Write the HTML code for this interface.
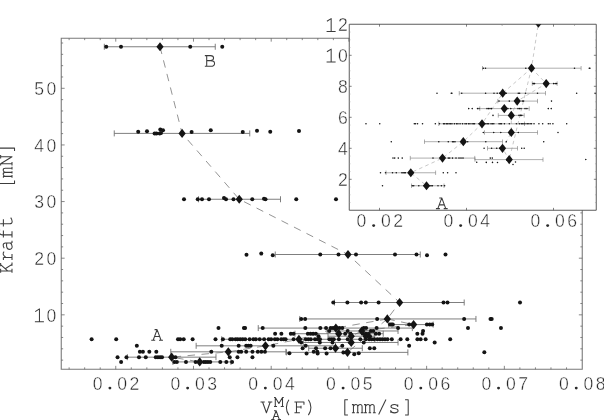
<!DOCTYPE html>
<html><head><meta charset="utf-8"><title>Kraft vs V</title>
<style>
html,body{margin:0;padding:0;background:#fff;overflow:hidden}
body{width:604px;height:420px;font-family:"Liberation Mono",monospace}
svg{display:block;will-change:transform}
</style></head><body>
<svg width="604" height="420" viewBox="0 0 604 420">
<defs><clipPath id="cm"><path d="M61.25 38.25H349.25V210.25H582.25V369.25H61.25Z"/></clipPath>
<clipPath id="ci"><rect x="349.25" y="24.25" width="247" height="186"/></clipPath></defs>
<rect width="604" height="420" fill="#fff"/>
<path d="M349.25 38.25H61.25V369.25H582.25V210.25" stroke="#7a7a7a" stroke-width="1.1" fill="none"/>
<path d="M69.12 369.25v-1.9M69.12 38.25v1.9M84.66 369.25v-1.9M84.66 38.25v1.9M100.21 369.25v-1.9M100.21 38.25v1.9M115.75 369.25v-3.4M115.75 38.25v3.4M131.29 369.25v-1.9M131.29 38.25v1.9M146.84 369.25v-1.9M146.84 38.25v1.9M162.38 369.25v-1.9M162.38 38.25v1.9M177.93 369.25v-1.9M177.93 38.25v1.9M193.47 369.25v-3.4M193.47 38.25v3.4M209.01 369.25v-1.9M209.01 38.25v1.9M224.56 369.25v-1.9M224.56 38.25v1.9M240.1 369.25v-1.9M240.1 38.25v1.9M255.65 369.25v-1.9M255.65 38.25v1.9M271.19 369.25v-3.4M271.19 38.25v3.4M286.73 369.25v-1.9M286.73 38.25v1.9M302.28 369.25v-1.9M302.28 38.25v1.9M317.82 369.25v-1.9M317.82 38.25v1.9M333.37 369.25v-1.9M333.37 38.25v1.9M348.91 369.25v-3.4M348.91 38.25v3.4M364.45 369.25v-1.9M380 369.25v-1.9M395.54 369.25v-1.9M411.09 369.25v-1.9M426.63 369.25v-3.4M442.17 369.25v-1.9M457.72 369.25v-1.9M473.26 369.25v-1.9M488.81 369.25v-1.9M504.35 369.25v-3.4M519.89 369.25v-1.9M535.44 369.25v-1.9M550.98 369.25v-1.9M566.53 369.25v-1.9M61.25 360.13h1.9M582.25 360.13h-1.9M61.25 348.81h1.9M582.25 348.81h-1.9M61.25 337.48h1.9M582.25 337.48h-1.9M61.25 326.16h1.9M582.25 326.16h-1.9M61.25 314.83h3.4M582.25 314.83h-3.4M61.25 303.5h1.9M582.25 303.5h-1.9M61.25 292.18h1.9M582.25 292.18h-1.9M61.25 280.85h1.9M582.25 280.85h-1.9M61.25 269.53h1.9M582.25 269.53h-1.9M61.25 258.2h3.4M582.25 258.2h-3.4M61.25 246.87h1.9M582.25 246.87h-1.9M61.25 235.55h1.9M582.25 235.55h-1.9M61.25 224.22h1.9M582.25 224.22h-1.9M61.25 212.9h1.9M582.25 212.9h-1.9M61.25 201.57h3.4M61.25 190.24h1.9M61.25 178.92h1.9M61.25 167.59h1.9M61.25 156.27h1.9M61.25 144.94h3.4M61.25 133.61h1.9M61.25 122.29h1.9M61.25 110.96h1.9M61.25 99.64h1.9M61.25 88.31h3.4M61.25 76.98h1.9M61.25 65.66h1.9M61.25 54.33h1.9M61.25 43.01h1.9" stroke="#606060" stroke-width="0.75" fill="none"/>
<g clip-path="url(#cm)">
<g stroke="#707070" stroke-width="0.9" fill="none">
<path d="M104.3 46.75H215.25M104.3 43.75V49.75M215.25 43.75V49.75"/>
<path d="M114.25 133.4H249.75M114.25 130.4V136.4M249.75 130.4V136.4"/>
<path d="M198.5 199.25H280.5M198.5 196.25V202.25M280.5 196.25V202.25"/>
<path d="M275.25 254.5H420.25M275.25 251.5V257.5M420.25 251.5V257.5"/>
<path d="M334.5 302.5H464.2M334.5 299.5V305.5M464.2 299.5V305.5"/>
<path d="M299.78 318.95H475.94M299.78 315.95V321.95M475.94 315.95V321.95"/>
<path d="M388.7 324.58H433.2M388.7 321.58V327.58M433.2 321.58V327.58"/>
<path d="M258.24 328.09H412.34M258.24 325.09V331.09M412.34 325.09V331.09"/>
<path d="M327.11 330.98H398.04M327.11 327.98V333.98M398.04 327.98V333.98"/>
<path d="M294.95 333.72H383.21M294.95 330.72V336.72M383.21 330.72V336.72"/>
<path d="M328.01 336.2H374.28M328.01 333.2V339.2M374.28 333.2V339.2"/>
<path d="M221.7 339.27H374.82M221.7 336.27V342.27M374.82 336.27V342.27"/>
<path d="M303.35 342.46H398.04M303.35 339.46V345.46M398.04 339.46V345.46"/>
<path d="M196.15 345.82H335.51M196.15 342.82V348.82M335.51 342.82V348.82"/>
<path d="M308.71 348.23H362.31M308.71 345.23V351.23M362.31 345.23V351.23"/>
<path d="M170.78 351.82H285.93M170.78 348.82V354.82M285.93 348.82V354.82"/>
<path d="M286.38 352.36H407.87M286.38 349.36V355.36M407.87 349.36V355.36"/>
<path d="M127.36 357.17H215.98M127.36 354.17V360.17M215.98 354.17V360.17"/>
<path d="M172.92 361.92H230.99M172.92 358.92V364.92M230.99 358.92V364.92"/>
</g>
<g stroke="#666" stroke-width="0.7" fill="none" stroke-dasharray="7.5 6.5">
<path d="M160 46.75L182.1 133.4L239.25 199.25L348 254.5L399.6 302.5L387.32 318.95"/>
<path d="M387.32 318.95L335.87 328.09L298.9 339.27L265.47 345.82L228.31 351.82L171.67 357.17L199.72 361.92"/>
<path d="M387.32 318.95L413.6 324.58L361.77 330.98"/>
<path d="M387.32 318.95L347.48 352.36"/>
<path d="M361.77 330.98L351.23 336.2L351.23 342.46L335.51 348.23L347.48 352.36"/>
</g>
<g fill="#141414">
<circle cx="106.25" cy="46.75" r="2.0"/>
<circle cx="121" cy="46.75" r="2.0"/>
<circle cx="190.25" cy="46.75" r="2.0"/>
<circle cx="222.25" cy="46.75" r="2.0"/>
<circle cx="138.2" cy="131.7" r="2.0"/>
<circle cx="147" cy="131.2" r="2.0"/>
<circle cx="154.6" cy="133.4" r="2.0"/>
<circle cx="156.5" cy="133.4" r="2.0"/>
<circle cx="159.7" cy="133.4" r="2.0"/>
<circle cx="161" cy="133" r="2.0"/>
<circle cx="160.3" cy="129.6" r="2.0"/>
<circle cx="163" cy="130.3" r="2.0"/>
<circle cx="191.6" cy="132.1" r="2.0"/>
<circle cx="210.75" cy="130.25" r="2.0"/>
<circle cx="242.75" cy="132" r="2.0"/>
<circle cx="257" cy="130.75" r="2.0"/>
<circle cx="270.25" cy="131.75" r="2.0"/>
<circle cx="299" cy="131" r="2.0"/>
<circle cx="184" cy="199.25" r="2.0"/>
<circle cx="197.75" cy="199.25" r="2.0"/>
<circle cx="202" cy="199.25" r="2.0"/>
<circle cx="209" cy="199.25" r="2.0"/>
<circle cx="226" cy="199.25" r="2.0"/>
<circle cx="233.5" cy="199.25" r="2.0"/>
<circle cx="252.25" cy="199.25" r="2.0"/>
<circle cx="265.5" cy="199.25" r="2.0"/>
<circle cx="296.25" cy="199.25" r="2.0"/>
<circle cx="336" cy="199.25" r="2.0"/>
<circle cx="224" cy="198" r="2.0"/>
<circle cx="264" cy="198.8" r="2.0"/>
<circle cx="320.25" cy="254.5" r="2.0"/>
<circle cx="338.5" cy="254.5" r="2.0"/>
<circle cx="356" cy="254.5" r="2.0"/>
<circle cx="395" cy="254.5" r="2.0"/>
<circle cx="416.5" cy="254.5" r="2.0"/>
<circle cx="445.5" cy="254.5" r="2.0"/>
<circle cx="246.5" cy="254.75" r="2.0"/>
<circle cx="261.25" cy="253.5" r="2.0"/>
<circle cx="272.75" cy="255.25" r="2.0"/>
<circle cx="427" cy="255.25" r="2.0"/>
<circle cx="333.3" cy="302.5" r="2.0"/>
<circle cx="347.4" cy="302.5" r="2.0"/>
<circle cx="361.1" cy="302.5" r="2.0"/>
<circle cx="365.8" cy="302.5" r="2.0"/>
<circle cx="378.6" cy="302.5" r="2.0"/>
<circle cx="443.5" cy="302.5" r="2.0"/>
<circle cx="447.5" cy="302.5" r="2.0"/>
<circle cx="520" cy="302.5" r="2.0"/>
<circle cx="301.21" cy="318.95" r="2.0"/>
<circle cx="305.14" cy="318.95" r="2.0"/>
<circle cx="377.14" cy="318.95" r="2.0"/>
<circle cx="464.15" cy="318.95" r="2.0"/>
<circle cx="490.5" cy="318.95" r="2.0"/>
<circle cx="491.7" cy="318.95" r="2.0"/>
<circle cx="390" cy="324.58" r="2.0"/>
<circle cx="391.5" cy="324.58" r="2.0"/>
<circle cx="392.8" cy="324.58" r="2.0"/>
<circle cx="409.2" cy="324.58" r="2.0"/>
<circle cx="426.9" cy="324.58" r="2.0"/>
<circle cx="429.7" cy="324.58" r="2.0"/>
<circle cx="432.2" cy="324.58" r="2.0"/>
<circle cx="218.48" cy="328.09" r="2.0"/>
<circle cx="243.94" cy="328.09" r="2.0"/>
<circle cx="245.1" cy="328.09" r="2.0"/>
<circle cx="262.7" cy="328.09" r="2.0"/>
<circle cx="305.32" cy="328.09" r="2.0"/>
<circle cx="320.32" cy="328.09" r="2.0"/>
<circle cx="326.04" cy="328.09" r="2.0"/>
<circle cx="330.69" cy="328.09" r="2.0"/>
<circle cx="333.01" cy="328.09" r="2.0"/>
<circle cx="339.44" cy="328.09" r="2.0"/>
<circle cx="342.3" cy="328.09" r="2.0"/>
<circle cx="363.74" cy="328.09" r="2.0"/>
<circle cx="366.06" cy="328.09" r="2.0"/>
<circle cx="376.6" cy="328.09" r="2.0"/>
<circle cx="398.04" cy="328.09" r="2.0"/>
<circle cx="467.99" cy="328.09" r="2.0"/>
<circle cx="500.96" cy="328.09" r="2.0"/>
<circle cx="329.26" cy="330.98" r="2.0"/>
<circle cx="347.66" cy="330.98" r="2.0"/>
<circle cx="370.89" cy="330.98" r="2.0"/>
<circle cx="373.21" cy="330.98" r="2.0"/>
<circle cx="423.06" cy="330.98" r="2.0"/>
<circle cx="275.12" cy="333.72" r="2.0"/>
<circle cx="281.37" cy="333.72" r="2.0"/>
<circle cx="290.84" cy="333.72" r="2.0"/>
<circle cx="293.52" cy="333.72" r="2.0"/>
<circle cx="307.82" cy="333.72" r="2.0"/>
<circle cx="310.5" cy="333.72" r="2.0"/>
<circle cx="313.18" cy="333.72" r="2.0"/>
<circle cx="315.86" cy="333.72" r="2.0"/>
<circle cx="345.16" cy="333.72" r="2.0"/>
<circle cx="350.34" cy="333.72" r="2.0"/>
<circle cx="363.2" cy="333.72" r="2.0"/>
<circle cx="365.88" cy="333.72" r="2.0"/>
<circle cx="368.56" cy="333.72" r="2.0"/>
<circle cx="375.8" cy="333.72" r="2.0"/>
<circle cx="379.1" cy="333.72" r="2.0"/>
<circle cx="417.34" cy="333.72" r="2.0"/>
<circle cx="422.52" cy="333.72" r="2.0"/>
<circle cx="318.54" cy="336.2" r="2.0"/>
<circle cx="364.99" cy="336.2" r="2.0"/>
<circle cx="367.49" cy="336.2" r="2.0"/>
<circle cx="369.99" cy="336.2" r="2.0"/>
<circle cx="91.6" cy="339.27" r="2.0"/>
<circle cx="116.2" cy="339.27" r="2.0"/>
<circle cx="178" cy="339.27" r="2.0"/>
<circle cx="180.2" cy="339.27" r="2.0"/>
<circle cx="183.7" cy="339.27" r="2.0"/>
<circle cx="192.6" cy="339.27" r="2.0"/>
<circle cx="215.5" cy="339.27" r="2.0"/>
<circle cx="222.9" cy="339.27" r="2.0"/>
<circle cx="230.2" cy="339.27" r="2.0"/>
<circle cx="232.3" cy="339.27" r="2.0"/>
<circle cx="235.5" cy="339.27" r="2.0"/>
<circle cx="237.6" cy="339.27" r="2.0"/>
<circle cx="240.2" cy="339.27" r="2.0"/>
<circle cx="242.7" cy="339.27" r="2.0"/>
<circle cx="245.2" cy="339.27" r="2.0"/>
<circle cx="249.6" cy="339.27" r="2.0"/>
<circle cx="253.4" cy="339.27" r="2.0"/>
<circle cx="255.9" cy="339.27" r="2.0"/>
<circle cx="259.7" cy="339.27" r="2.0"/>
<circle cx="264.1" cy="339.27" r="2.0"/>
<circle cx="268.6" cy="339.27" r="2.0"/>
<circle cx="271.1" cy="339.27" r="2.0"/>
<circle cx="274.9" cy="339.27" r="2.0"/>
<circle cx="277.4" cy="339.27" r="2.0"/>
<circle cx="281.2" cy="339.27" r="2.0"/>
<circle cx="283.7" cy="339.27" r="2.0"/>
<circle cx="285.6" cy="339.27" r="2.0"/>
<circle cx="293.6" cy="339.27" r="2.0"/>
<circle cx="305.8" cy="339.27" r="2.0"/>
<circle cx="308.3" cy="339.27" r="2.0"/>
<circle cx="310.8" cy="339.27" r="2.0"/>
<circle cx="315" cy="339.27" r="2.0"/>
<circle cx="317.5" cy="339.27" r="2.0"/>
<circle cx="320" cy="339.27" r="2.0"/>
<circle cx="329.4" cy="339.27" r="2.0"/>
<circle cx="331.6" cy="339.27" r="2.0"/>
<circle cx="333.8" cy="339.27" r="2.0"/>
<circle cx="338.9" cy="339.27" r="2.0"/>
<circle cx="347.7" cy="339.27" r="2.0"/>
<circle cx="360.3" cy="339.27" r="2.0"/>
<circle cx="365.8" cy="339.27" r="2.0"/>
<circle cx="369.2" cy="339.27" r="2.0"/>
<circle cx="371.7" cy="339.27" r="2.0"/>
<circle cx="374.2" cy="339.27" r="2.0"/>
<circle cx="377.4" cy="339.27" r="2.0"/>
<circle cx="380" cy="339.27" r="2.0"/>
<circle cx="382.5" cy="339.27" r="2.0"/>
<circle cx="385" cy="339.27" r="2.0"/>
<circle cx="387.5" cy="339.27" r="2.0"/>
<circle cx="391.8" cy="339.27" r="2.0"/>
<circle cx="400.6" cy="339.27" r="2.0"/>
<circle cx="407.3" cy="339.27" r="2.0"/>
<circle cx="417.4" cy="339.27" r="2.0"/>
<circle cx="420.6" cy="339.27" r="2.0"/>
<circle cx="425.6" cy="339.27" r="2.0"/>
<circle cx="450.2" cy="339.27" r="2.0"/>
<circle cx="301.21" cy="342.46" r="2.0"/>
<circle cx="319.79" cy="342.46" r="2.0"/>
<circle cx="332.47" cy="342.46" r="2.0"/>
<circle cx="363.74" cy="342.46" r="2.0"/>
<circle cx="434.67" cy="342.46" r="2.0"/>
<circle cx="136.83" cy="345.82" r="2.0"/>
<circle cx="221.7" cy="345.82" r="2.0"/>
<circle cx="238.67" cy="345.82" r="2.0"/>
<circle cx="246.18" cy="345.82" r="2.0"/>
<circle cx="248.32" cy="345.82" r="2.0"/>
<circle cx="250.64" cy="345.82" r="2.0"/>
<circle cx="273.33" cy="345.82" r="2.0"/>
<circle cx="305.67" cy="345.82" r="2.0"/>
<circle cx="342.3" cy="345.82" r="2.0"/>
<circle cx="409.12" cy="345.82" r="2.0"/>
<circle cx="302.64" cy="348.23" r="2.0"/>
<circle cx="316.04" cy="348.23" r="2.0"/>
<circle cx="325.15" cy="348.23" r="2.0"/>
<circle cx="330.51" cy="348.23" r="2.0"/>
<circle cx="369.81" cy="348.23" r="2.0"/>
<circle cx="374.28" cy="348.23" r="2.0"/>
<circle cx="139.87" cy="351.82" r="2.0"/>
<circle cx="142.91" cy="351.82" r="2.0"/>
<circle cx="149.34" cy="351.82" r="2.0"/>
<circle cx="156.31" cy="351.82" r="2.0"/>
<circle cx="211.34" cy="351.82" r="2.0"/>
<circle cx="238.67" cy="351.82" r="2.0"/>
<circle cx="241.17" cy="351.82" r="2.0"/>
<circle cx="246.18" cy="351.82" r="2.0"/>
<circle cx="252.43" cy="351.82" r="2.0"/>
<circle cx="257.79" cy="351.82" r="2.0"/>
<circle cx="261.36" cy="351.82" r="2.0"/>
<circle cx="264.94" cy="351.82" r="2.0"/>
<circle cx="313.71" cy="351.82" r="2.0"/>
<circle cx="317.29" cy="351.82" r="2.0"/>
<circle cx="289.41" cy="353.31" r="2.0"/>
<circle cx="306.57" cy="353.39" r="2.0"/>
<circle cx="317.64" cy="353.39" r="2.0"/>
<circle cx="326.58" cy="353.42" r="2.0"/>
<circle cx="354.27" cy="354.15" r="2.0"/>
<circle cx="358.74" cy="353.24" r="2.0"/>
<circle cx="484.34" cy="352.33" r="2.0"/>
<circle cx="343.37" cy="352.58" r="2.0"/>
<circle cx="117.54" cy="357.17" r="2.0"/>
<circle cx="126.47" cy="357.17" r="2.0"/>
<circle cx="138.98" cy="357.17" r="2.0"/>
<circle cx="145.77" cy="357.17" r="2.0"/>
<circle cx="155.77" cy="357.17" r="2.0"/>
<circle cx="157.92" cy="357.17" r="2.0"/>
<circle cx="160.06" cy="357.17" r="2.0"/>
<circle cx="162.02" cy="357.17" r="2.0"/>
<circle cx="175.42" cy="357.17" r="2.0"/>
<circle cx="229.74" cy="357.17" r="2.0"/>
<circle cx="237.42" cy="357.17" r="2.0"/>
<circle cx="252.43" cy="357.17" r="2.0"/>
<circle cx="121.11" cy="361.92" r="2.0"/>
<circle cx="174.35" cy="361.92" r="2.0"/>
<circle cx="176.85" cy="361.92" r="2.0"/>
<circle cx="185.97" cy="361.92" r="2.0"/>
<circle cx="195.61" cy="361.92" r="2.0"/>
<circle cx="203.83" cy="361.92" r="2.0"/>
<circle cx="205.8" cy="361.92" r="2.0"/>
<circle cx="207.94" cy="361.92" r="2.0"/>
<circle cx="210.26" cy="361.92" r="2.0"/>
<circle cx="220.27" cy="361.92" r="2.0"/>
<circle cx="226.34" cy="361.92" r="2.0"/>
<circle cx="232.06" cy="361.92" r="2.0"/>
<path d="M160 42.15L163.6 46.75L160 51.35L156.4 46.75Z"/>
<path d="M182.1 128.8L185.7 133.4L182.1 138L178.5 133.4Z"/>
<path d="M239.25 194.65L242.85 199.25L239.25 203.85L235.65 199.25Z"/>
<path d="M348 249.9L351.6 254.5L348 259.1L344.4 254.5Z"/>
<path d="M399.6 297.9L403.2 302.5L399.6 307.1L396 302.5Z"/>
<path d="M387.32 314.35L390.92 318.95L387.32 323.55L383.72 318.95Z"/>
<path d="M413.6 319.98L417.2 324.58L413.6 329.18L410 324.58Z"/>
<path d="M335.87 323.49L339.47 328.09L335.87 332.69L332.27 328.09Z"/>
<path d="M361.77 326.38L365.37 330.98L361.77 335.58L358.17 330.98Z"/>
<path d="M338.73 329.12L342.33 333.72L338.73 338.32L335.13 333.72Z"/>
<path d="M351.23 331.6L354.83 336.2L351.23 340.8L347.63 336.2Z"/>
<path d="M298.9 334.67L302.5 339.27L298.9 343.87L295.3 339.27Z"/>
<path d="M351.23 337.86L354.83 342.46L351.23 347.06L347.63 342.46Z"/>
<path d="M265.47 341.22L269.07 345.82L265.47 350.42L261.87 345.82Z"/>
<path d="M335.51 343.63L339.11 348.23L335.51 352.83L331.91 348.23Z"/>
<path d="M228.31 347.22L231.91 351.82L228.31 356.42L224.71 351.82Z"/>
<path d="M347.48 347.76L351.08 352.36L347.48 356.96L343.88 352.36Z"/>
<path d="M171.67 352.57L175.27 357.17L171.67 361.77L168.07 357.17Z"/>
<path d="M199.72 357.32L203.32 361.92L199.72 366.52L196.12 361.92Z"/>
</g></g>
<path d="M349.25 24.25H596.25V210.25H349.25Z" stroke="#4a4a4a" stroke-width="0.9" fill="none"/>
<path d="M379.5 210.25v-2.4M379.5 24.25v2.4M466.5 210.25v-2.4M466.5 24.25v2.4M553.5 210.25v-2.4M553.5 24.25v2.4M349.25 179.3h2.4M596.25 179.3h-2.4M349.25 148.3h2.4M596.25 148.3h-2.4M349.25 117.3h2.4M596.25 117.3h-2.4M349.25 86.3h2.4M596.25 86.3h-2.4M349.25 55.3h2.4M596.25 55.3h-2.4" stroke="#4a4a4a" stroke-width="0.7" fill="none"/>
<path d="M502.3 24.25v1.6M574.5 24.25v1.6M349.25 202.55h1.3M596.25 202.55h-1.3M349.25 194.8h1.3M596.25 194.8h-1.3M349.25 187.05h1.3M596.25 187.05h-1.3M349.25 171.55h1.3M596.25 171.55h-1.3M349.25 163.8h1.3M596.25 163.8h-1.3M349.25 156.05h1.3M596.25 156.05h-1.3M349.25 140.55h1.3M596.25 140.55h-1.3M349.25 132.8h1.3M596.25 132.8h-1.3M349.25 125.05h1.3M596.25 125.05h-1.3M349.25 109.55h1.3M596.25 109.55h-1.3M349.25 101.8h1.3M596.25 101.8h-1.3M349.25 94.05h1.3M596.25 94.05h-1.3M349.25 78.55h1.3M596.25 78.55h-1.3M349.25 70.8h1.3M596.25 70.8h-1.3M349.25 63.05h1.3M596.25 63.05h-1.3M349.25 47.55h1.3M596.25 47.55h-1.3M349.25 39.8h1.3M596.25 39.8h-1.3M349.25 32.05h1.3M596.25 32.05h-1.3" stroke="#999" stroke-width="0.5" fill="none"/>
<g clip-path="url(#ci)">
<g stroke="#6c6c6c" stroke-width="0.55" fill="none">
<path d="M501.93 23.22H574.53M501.93 21.02V25.42M574.53 21.02V25.42"/>
<path d="M482.5 68.2H581.1M482.5 66V70.4M581.1 66V70.4"/>
<path d="M532.27 83.6H557.18M532.27 81.4V85.8M557.18 81.4V85.8"/>
<path d="M459.25 93.2H545.5M459.25 91V95.4M545.5 91V95.4"/>
<path d="M497.8 101.1H537.5M497.8 98.9V103.3M537.5 98.9V103.3"/>
<path d="M479.8 108.6H529.2M479.8 106.4V110.8M529.2 106.4V110.8"/>
<path d="M498.3 115.4H524.2M498.3 113.2V117.6M524.2 113.2V117.6"/>
<path d="M438.8 123.8H524.5M438.8 121.6V126M524.5 121.6V126"/>
<path d="M484.5 132.5H537.5M484.5 130.3V134.7M537.5 130.3V134.7"/>
<path d="M424.5 141.7H502.5M424.5 139.5V143.9M502.5 139.5V143.9"/>
<path d="M487.5 148.3H517.5M487.5 146.1V150.5M517.5 146.1V150.5"/>
<path d="M410.3 158.1H474.75M410.3 155.9V160.3M474.75 155.9V160.3"/>
<path d="M475 159.6H543M475 157.4V161.8M543 157.4V161.8"/>
<path d="M386 172.75H435.6M386 170.55V174.95M435.6 170.55V174.95"/>
<path d="M411.5 185.75H444M411.5 183.55V187.95M444 183.55V187.95"/>
</g>
<g stroke="#858585" stroke-width="0.45" fill="none" stroke-dasharray="3.6 3.2">
<path d="M404.27 -676.29L416.64 -439.29L448.62 -259.19L509.49 -108.07L538.37 23.22L531.5 68.2"/>
<path d="M531.5 68.2L502.7 93.2L482.01 123.8L463.3 141.7L442.5 158.1L410.8 172.75L426.5 185.75"/>
<path d="M531.5 68.2L546.21 83.6L517.2 101.1"/>
<path d="M531.5 68.2L509.2 159.6"/>
<path d="M517.2 101.1L511.3 115.4L511.3 132.5L502.5 148.3L509.2 159.6"/>
</g>
<g fill="#141414">
<circle cx="501.26" cy="23.22" r="0.78"/>
<circle cx="509.15" cy="23.22" r="0.78"/>
<circle cx="516.82" cy="23.22" r="0.78"/>
<circle cx="519.45" cy="23.22" r="0.78"/>
<circle cx="526.62" cy="23.22" r="0.78"/>
<circle cx="562.94" cy="23.22" r="0.78"/>
<circle cx="565.18" cy="23.22" r="0.78"/>
<circle cx="483.3" cy="68.2" r="0.78"/>
<circle cx="485.5" cy="68.2" r="0.78"/>
<circle cx="525.8" cy="68.2" r="0.78"/>
<circle cx="574.5" cy="68.2" r="0.78"/>
<circle cx="589.25" cy="68.2" r="0.78"/>
<circle cx="589.92" cy="68.2" r="0.78"/>
<circle cx="533" cy="83.6" r="0.78"/>
<circle cx="533.84" cy="83.6" r="0.78"/>
<circle cx="534.57" cy="83.6" r="0.78"/>
<circle cx="543.74" cy="83.6" r="0.78"/>
<circle cx="553.65" cy="83.6" r="0.78"/>
<circle cx="555.22" cy="83.6" r="0.78"/>
<circle cx="556.62" cy="83.6" r="0.78"/>
<circle cx="437" cy="93.2" r="0.78"/>
<circle cx="451.25" cy="93.2" r="0.78"/>
<circle cx="451.9" cy="93.2" r="0.78"/>
<circle cx="461.75" cy="93.2" r="0.78"/>
<circle cx="485.6" cy="93.2" r="0.78"/>
<circle cx="494" cy="93.2" r="0.78"/>
<circle cx="497.2" cy="93.2" r="0.78"/>
<circle cx="499.8" cy="93.2" r="0.78"/>
<circle cx="501.1" cy="93.2" r="0.78"/>
<circle cx="504.7" cy="93.2" r="0.78"/>
<circle cx="506.3" cy="93.2" r="0.78"/>
<circle cx="518.3" cy="93.2" r="0.78"/>
<circle cx="519.6" cy="93.2" r="0.78"/>
<circle cx="525.5" cy="93.2" r="0.78"/>
<circle cx="537.5" cy="93.2" r="0.78"/>
<circle cx="576.65" cy="93.2" r="0.78"/>
<circle cx="595.1" cy="93.2" r="0.78"/>
<circle cx="499" cy="101.1" r="0.78"/>
<circle cx="509.3" cy="101.1" r="0.78"/>
<circle cx="522.3" cy="101.1" r="0.78"/>
<circle cx="523.6" cy="101.1" r="0.78"/>
<circle cx="551.5" cy="101.1" r="0.78"/>
<circle cx="468.7" cy="108.6" r="0.78"/>
<circle cx="472.2" cy="108.6" r="0.78"/>
<circle cx="477.5" cy="108.6" r="0.78"/>
<circle cx="479" cy="108.6" r="0.78"/>
<circle cx="487" cy="108.6" r="0.78"/>
<circle cx="488.5" cy="108.6" r="0.78"/>
<circle cx="490" cy="108.6" r="0.78"/>
<circle cx="491.5" cy="108.6" r="0.78"/>
<circle cx="507.9" cy="108.6" r="0.78"/>
<circle cx="510.8" cy="108.6" r="0.78"/>
<circle cx="518" cy="108.6" r="0.78"/>
<circle cx="519.5" cy="108.6" r="0.78"/>
<circle cx="521" cy="108.6" r="0.78"/>
<circle cx="525.05" cy="108.6" r="0.78"/>
<circle cx="526.9" cy="108.6" r="0.78"/>
<circle cx="548.3" cy="108.6" r="0.78"/>
<circle cx="551.2" cy="108.6" r="0.78"/>
<circle cx="493" cy="115.4" r="0.78"/>
<circle cx="519" cy="115.4" r="0.78"/>
<circle cx="520.4" cy="115.4" r="0.78"/>
<circle cx="521.8" cy="115.4" r="0.78"/>
<circle cx="365.98" cy="123.8" r="0.78"/>
<circle cx="379.75" cy="123.8" r="0.78"/>
<circle cx="414.34" cy="123.8" r="0.78"/>
<circle cx="415.57" cy="123.8" r="0.78"/>
<circle cx="417.53" cy="123.8" r="0.78"/>
<circle cx="422.51" cy="123.8" r="0.78"/>
<circle cx="435.33" cy="123.8" r="0.78"/>
<circle cx="439.47" cy="123.8" r="0.78"/>
<circle cx="443.56" cy="123.8" r="0.78"/>
<circle cx="444.73" cy="123.8" r="0.78"/>
<circle cx="446.52" cy="123.8" r="0.78"/>
<circle cx="447.7" cy="123.8" r="0.78"/>
<circle cx="449.15" cy="123.8" r="0.78"/>
<circle cx="450.55" cy="123.8" r="0.78"/>
<circle cx="451.95" cy="123.8" r="0.78"/>
<circle cx="454.42" cy="123.8" r="0.78"/>
<circle cx="456.54" cy="123.8" r="0.78"/>
<circle cx="457.94" cy="123.8" r="0.78"/>
<circle cx="460.07" cy="123.8" r="0.78"/>
<circle cx="462.53" cy="123.8" r="0.78"/>
<circle cx="465.05" cy="123.8" r="0.78"/>
<circle cx="466.45" cy="123.8" r="0.78"/>
<circle cx="468.58" cy="123.8" r="0.78"/>
<circle cx="469.98" cy="123.8" r="0.78"/>
<circle cx="472.1" cy="123.8" r="0.78"/>
<circle cx="473.5" cy="123.8" r="0.78"/>
<circle cx="474.57" cy="123.8" r="0.78"/>
<circle cx="479.04" cy="123.8" r="0.78"/>
<circle cx="485.87" cy="123.8" r="0.78"/>
<circle cx="487.27" cy="123.8" r="0.78"/>
<circle cx="488.67" cy="123.8" r="0.78"/>
<circle cx="491.02" cy="123.8" r="0.78"/>
<circle cx="492.42" cy="123.8" r="0.78"/>
<circle cx="493.82" cy="123.8" r="0.78"/>
<circle cx="499.08" cy="123.8" r="0.78"/>
<circle cx="500.31" cy="123.8" r="0.78"/>
<circle cx="501.54" cy="123.8" r="0.78"/>
<circle cx="504.4" cy="123.8" r="0.78"/>
<circle cx="509.32" cy="123.8" r="0.78"/>
<circle cx="516.38" cy="123.8" r="0.78"/>
<circle cx="519.45" cy="123.8" r="0.78"/>
<circle cx="521.36" cy="123.8" r="0.78"/>
<circle cx="522.76" cy="123.8" r="0.78"/>
<circle cx="524.15" cy="123.8" r="0.78"/>
<circle cx="525.95" cy="123.8" r="0.78"/>
<circle cx="527.4" cy="123.8" r="0.78"/>
<circle cx="528.8" cy="123.8" r="0.78"/>
<circle cx="530.2" cy="123.8" r="0.78"/>
<circle cx="531.6" cy="123.8" r="0.78"/>
<circle cx="534.01" cy="123.8" r="0.78"/>
<circle cx="538.93" cy="123.8" r="0.78"/>
<circle cx="542.68" cy="123.8" r="0.78"/>
<circle cx="548.33" cy="123.8" r="0.78"/>
<circle cx="550.12" cy="123.8" r="0.78"/>
<circle cx="552.92" cy="123.8" r="0.78"/>
<circle cx="566.69" cy="123.8" r="0.78"/>
<circle cx="483.3" cy="132.5" r="0.78"/>
<circle cx="493.7" cy="132.5" r="0.78"/>
<circle cx="500.8" cy="132.5" r="0.78"/>
<circle cx="518.3" cy="132.5" r="0.78"/>
<circle cx="558" cy="132.5" r="0.78"/>
<circle cx="391.3" cy="141.7" r="0.78"/>
<circle cx="438.8" cy="141.7" r="0.78"/>
<circle cx="448.3" cy="141.7" r="0.78"/>
<circle cx="452.5" cy="141.7" r="0.78"/>
<circle cx="453.7" cy="141.7" r="0.78"/>
<circle cx="455" cy="141.7" r="0.78"/>
<circle cx="467.7" cy="141.7" r="0.78"/>
<circle cx="485.8" cy="141.7" r="0.78"/>
<circle cx="506.3" cy="141.7" r="0.78"/>
<circle cx="543.7" cy="141.7" r="0.78"/>
<circle cx="484.1" cy="148.3" r="0.78"/>
<circle cx="491.6" cy="148.3" r="0.78"/>
<circle cx="496.7" cy="148.3" r="0.78"/>
<circle cx="499.7" cy="148.3" r="0.78"/>
<circle cx="521.7" cy="148.3" r="0.78"/>
<circle cx="524.2" cy="148.3" r="0.78"/>
<circle cx="393" cy="158.1" r="0.78"/>
<circle cx="394.7" cy="158.1" r="0.78"/>
<circle cx="398.3" cy="158.1" r="0.78"/>
<circle cx="402.2" cy="158.1" r="0.78"/>
<circle cx="433" cy="158.1" r="0.78"/>
<circle cx="448.3" cy="158.1" r="0.78"/>
<circle cx="449.7" cy="158.1" r="0.78"/>
<circle cx="452.5" cy="158.1" r="0.78"/>
<circle cx="456" cy="158.1" r="0.78"/>
<circle cx="459" cy="158.1" r="0.78"/>
<circle cx="461" cy="158.1" r="0.78"/>
<circle cx="463" cy="158.1" r="0.78"/>
<circle cx="490.3" cy="158.1" r="0.78"/>
<circle cx="492.3" cy="158.1" r="0.78"/>
<circle cx="476.7" cy="162.2" r="0.78"/>
<circle cx="486.3" cy="162.4" r="0.78"/>
<circle cx="492.5" cy="162.4" r="0.78"/>
<circle cx="497.5" cy="162.5" r="0.78"/>
<circle cx="513" cy="164.5" r="0.78"/>
<circle cx="515.5" cy="162" r="0.78"/>
<circle cx="585.8" cy="159.5" r="0.78"/>
<circle cx="506.9" cy="160.2" r="0.78"/>
<circle cx="380.5" cy="172.75" r="0.78"/>
<circle cx="385.5" cy="172.75" r="0.78"/>
<circle cx="392.5" cy="172.75" r="0.78"/>
<circle cx="396.3" cy="172.75" r="0.78"/>
<circle cx="401.9" cy="172.75" r="0.78"/>
<circle cx="403.1" cy="172.75" r="0.78"/>
<circle cx="404.3" cy="172.75" r="0.78"/>
<circle cx="405.4" cy="172.75" r="0.78"/>
<circle cx="412.9" cy="172.75" r="0.78"/>
<circle cx="443.3" cy="172.75" r="0.78"/>
<circle cx="447.6" cy="172.75" r="0.78"/>
<circle cx="456" cy="172.75" r="0.78"/>
<circle cx="382.5" cy="185.75" r="0.78"/>
<circle cx="412.3" cy="185.75" r="0.78"/>
<circle cx="413.7" cy="185.75" r="0.78"/>
<circle cx="418.8" cy="185.75" r="0.78"/>
<circle cx="424.2" cy="185.75" r="0.78"/>
<circle cx="428.8" cy="185.75" r="0.78"/>
<circle cx="429.9" cy="185.75" r="0.78"/>
<circle cx="431.1" cy="185.75" r="0.78"/>
<circle cx="432.4" cy="185.75" r="0.78"/>
<circle cx="438" cy="185.75" r="0.78"/>
<circle cx="441.4" cy="185.75" r="0.78"/>
<circle cx="444.6" cy="185.75" r="0.78"/>
<path d="M538.37 18.62L541.97 23.22L538.37 27.82L534.77 23.22Z"/>
<path d="M531.5 63.6L535.1 68.2L531.5 72.8L527.9 68.2Z"/>
<path d="M546.21 79L549.81 83.6L546.21 88.2L542.61 83.6Z"/>
<path d="M502.7 88.6L506.3 93.2L502.7 97.8L499.1 93.2Z"/>
<path d="M517.2 96.5L520.8 101.1L517.2 105.7L513.6 101.1Z"/>
<path d="M504.3 104L507.9 108.6L504.3 113.2L500.7 108.6Z"/>
<path d="M511.3 110.8L514.9 115.4L511.3 120L507.7 115.4Z"/>
<path d="M482.01 119.2L485.61 123.8L482.01 128.4L478.41 123.8Z"/>
<path d="M511.3 127.9L514.9 132.5L511.3 137.1L507.7 132.5Z"/>
<path d="M463.3 137.1L466.9 141.7L463.3 146.3L459.7 141.7Z"/>
<path d="M502.5 143.7L506.1 148.3L502.5 152.9L498.9 148.3Z"/>
<path d="M442.5 153.5L446.1 158.1L442.5 162.7L438.9 158.1Z"/>
<path d="M509.2 155L512.8 159.6L509.2 164.2L505.6 159.6Z"/>
<path d="M410.8 168.15L414.4 172.75L410.8 177.35L407.2 172.75Z"/>
<path d="M426.5 181.15L430.1 185.75L426.5 190.35L422.9 185.75Z"/>
</g></g>
<g font-family="'Liberation Sans', sans-serif" font-size="17.6" fill="#262626" stroke="#fff" stroke-width="0.4" text-anchor="middle">
<text transform="translate(97.67 389.7) scale(1 1.075)">0</text><text transform="translate(122.17 389.7) scale(1 1.075)">0</text><text transform="translate(134.43 389.7) scale(1 1.075)">2</text>
<text transform="translate(175.39 389.7) scale(1 1.075)">0</text><text transform="translate(199.89 389.7) scale(1 1.075)">0</text><text transform="translate(212.14 389.7) scale(1 1.075)">3</text>
<text transform="translate(253.12 389.7) scale(1 1.075)">0</text><text transform="translate(277.62 389.7) scale(1 1.075)">0</text><text transform="translate(289.87 389.7) scale(1 1.075)">4</text>
<text transform="translate(330.84 389.7) scale(1 1.075)">0</text><text transform="translate(355.34 389.7) scale(1 1.075)">0</text><text transform="translate(367.59 389.7) scale(1 1.075)">5</text>
<text transform="translate(408.55 389.7) scale(1 1.075)">0</text><text transform="translate(433.05 389.7) scale(1 1.075)">0</text><text transform="translate(445.3 389.7) scale(1 1.075)">6</text>
<text transform="translate(486.28 389.7) scale(1 1.075)">0</text><text transform="translate(510.78 389.7) scale(1 1.075)">0</text><text transform="translate(523.03 389.7) scale(1 1.075)">7</text>
<text transform="translate(563.99 389.7) scale(1 1.075)">0</text><text transform="translate(588.49 389.7) scale(1 1.075)">0</text><text transform="translate(600.74 389.7) scale(1 1.075)">8</text>
<text transform="translate(51.3 321.73) scale(1 1.075)">0</text>
<text transform="translate(39.05 265.1) scale(1 1.075)">2</text><text transform="translate(51.3 265.1) scale(1 1.075)">0</text>
<text transform="translate(39.05 208.47) scale(1 1.075)">3</text><text transform="translate(51.3 208.47) scale(1 1.075)">0</text>
<text transform="translate(39.05 151.84) scale(1 1.075)">4</text><text transform="translate(51.3 151.84) scale(1 1.075)">0</text>
<text transform="translate(39.05 95.21) scale(1 1.075)">5</text><text transform="translate(51.3 95.21) scale(1 1.075)">0</text>
<text transform="translate(361.43 227.2) scale(1 1.075)">0</text><text transform="translate(385.93 227.2) scale(1 1.075)">0</text><text transform="translate(398.18 227.2) scale(1 1.075)">2</text>
<text transform="translate(448.43 227.2) scale(1 1.075)">0</text><text transform="translate(472.93 227.2) scale(1 1.075)">0</text><text transform="translate(485.18 227.2) scale(1 1.075)">4</text>
<text transform="translate(535.42 227.2) scale(1 1.075)">0</text><text transform="translate(559.92 227.2) scale(1 1.075)">0</text><text transform="translate(572.17 227.2) scale(1 1.075)">6</text>
<text transform="translate(343 185.9) scale(1 1.075)">2</text>
<text transform="translate(343 154.9) scale(1 1.075)">4</text>
<text transform="translate(343 123.9) scale(1 1.075)">6</text>
<text transform="translate(343 92.9) scale(1 1.075)">8</text>
<text transform="translate(343 61.9) scale(1 1.075)">0</text>
<text transform="translate(343 31.4) scale(1 1.075)">2</text>
</g>
<g fill="#2a2a2a"><circle cx="109.92" cy="388.1" r="1.45"/><circle cx="187.64" cy="388.1" r="1.45"/><circle cx="265.37" cy="388.1" r="1.45"/><circle cx="343.09" cy="388.1" r="1.45"/><circle cx="420.8" cy="388.1" r="1.45"/><circle cx="498.53" cy="388.1" r="1.45"/><circle cx="576.24" cy="388.1" r="1.45"/><circle cx="373.68" cy="225.6" r="1.45"/><circle cx="460.68" cy="225.6" r="1.45"/><circle cx="547.67" cy="225.6" r="1.45"/></g>
<g fill="none" stroke="#3c3c3c" stroke-width="1.05" stroke-linejoin="round" vector-effect="non-scaling-stroke">
<path vector-effect="non-scaling-stroke" transform="translate(32.67 321.83) scale(0.02226 -0.02090)" d="M115 490L305 618V0M100 0H505"/>
<path vector-effect="non-scaling-stroke" transform="translate(324.37 62) scale(0.02226 -0.02090)" d="M115 490L305 618V0M100 0H505"/>
<path vector-effect="non-scaling-stroke" transform="translate(324.37 31.5) scale(0.02226 -0.02090)" d="M115 490L305 618V0M100 0H505"/>
<path vector-effect="non-scaling-stroke" transform="translate(203.83 66.3) scale(0.02023 -0.01900)" d="M50 0H340C452 0 530 62 530 152C530 242 452 300 335 300H142M142 0V562M50 562H330C428 562 482 505 482 432C482 352 422 300 330 300"/>
<path vector-effect="non-scaling-stroke" transform="translate(151.03 340.3) scale(0.02023 -0.01900)" d="M10 0H205M395 0H590M105 0L300 562L495 0M175 562H300M172 195H428"/>
<path vector-effect="non-scaling-stroke" transform="translate(435.73 208.6) scale(0.02023 -0.01900)" d="M10 0H205M395 0H590M105 0L300 562L495 0M175 562H300M172 195H428"/>
<path vector-effect="non-scaling-stroke" transform="matrix(0 -0.01900 -0.02023 0 12 273.45)" d="M130 0V562M40 0H250M40 562H250M130 215L460 562M380 562H550M245 335L480 0M400 0H580"/>
<path vector-effect="non-scaling-stroke" transform="matrix(0 -0.01900 -0.02023 0 12 262.2)" d="M250 0V426M110 426H250M110 0H430M250 300C310 390 380 436 450 436C500 436 535 415 545 385"/>
<path vector-effect="non-scaling-stroke" transform="matrix(0 -0.01900 -0.02023 0 12 251)" d="M140 385C200 420 255 436 310 436C385 436 425 395 425 320V0M425 0H545M425 255C350 272 280 275 215 262C130 245 85 195 85 130C85 50 145 -8 230 -8C310 -8 380 30 425 95"/>
<path vector-effect="non-scaling-stroke" transform="matrix(0 -0.01900 -0.02023 0 12 239.7)" d="M255 0V470C255 570 310 625 395 625C440 625 485 618 530 605M110 426H480M110 0H450"/>
<path vector-effect="non-scaling-stroke" transform="matrix(0 -0.01900 -0.02023 0 12 227.9)" d="M215 585V120C215 35 255 -8 335 -8C405 -8 475 20 540 65M70 426H455"/>
<path vector-effect="non-scaling-stroke" transform="matrix(0 -0.01900 -0.02023 0 12 188.4)" d="M410 680H255V-125H410"/>
<path vector-effect="non-scaling-stroke" transform="matrix(0 -0.01900 -0.02023 0 12 178)" d="M10 426H85V0M85 335C115 400 150 436 200 436C262 436 297 400 297 330V0M297 335C327 400 362 436 412 436C475 436 512 400 512 330V0M10 0H155M235 0H360M450 0H590"/>
<path vector-effect="non-scaling-stroke" transform="matrix(0 -0.01900 -0.02023 0 12 166)" d="M20 0H215M115 0V562M20 562H115L490 0V562M390 562H585"/>
<path vector-effect="non-scaling-stroke" transform="matrix(0 -0.01900 -0.02023 0 12 154.7)" d="M190 680H345V-125H190"/>
<path vector-effect="non-scaling-stroke" transform="translate(260.33 412.7) scale(0.02023 -0.01900)" d="M10 562H220M380 562H590M110 562L300 0L490 562"/>
<path vector-effect="non-scaling-stroke" transform="translate(273.86 406.4) scale(0.01680 -0.01577)" d="M10 0H190M410 0H590M85 0V562M10 562H85L300 185L515 562H590M515 562V0"/>
<path vector-effect="non-scaling-stroke" transform="translate(271.06 419.6) scale(0.01680 -0.01577)" d="M10 0H205M395 0H590M105 0L300 562L495 0M175 562H300M172 195H428"/>
<path vector-effect="non-scaling-stroke" transform="translate(280.93 412.7) scale(0.02023 -0.01900)" d="M395 680C305 555 270 410 270 278C270 150 305 5 395 -125"/>
<path vector-effect="non-scaling-stroke" transform="translate(293.23 412.7) scale(0.02023 -0.01900)" d="M60 0H330M160 0V562M60 562H530V415M160 295H385M385 365V225"/>
<path vector-effect="non-scaling-stroke" transform="translate(304.23 412.7) scale(0.02023 -0.01900)" d="M205 680C295 555 330 410 330 278C330 150 295 5 205 -125"/>
<path vector-effect="non-scaling-stroke" transform="translate(339.63 412.7) scale(0.02023 -0.01900)" d="M410 680H255V-125H410"/>
<path vector-effect="non-scaling-stroke" transform="translate(351.73 412.7) scale(0.02023 -0.01900)" d="M10 426H85V0M85 335C115 400 150 436 200 436C262 436 297 400 297 330V0M297 335C327 400 362 436 412 436C475 436 512 400 512 330V0M10 0H155M235 0H360M450 0H590"/>
<path vector-effect="non-scaling-stroke" transform="translate(363.83 412.7) scale(0.02023 -0.01900)" d="M10 426H85V0M85 335C115 400 150 436 200 436C262 436 297 400 297 330V0M297 335C327 400 362 436 412 436C475 436 512 400 512 330V0M10 0H155M235 0H360M450 0H590"/>
<path vector-effect="non-scaling-stroke" transform="translate(376.23 412.7) scale(0.02023 -0.01900)" d="M120 -95L480 700"/>
<path vector-effect="non-scaling-stroke" transform="translate(388.33 412.7) scale(0.02023 -0.01900)" d="M465 436V325C455 395 385 436 300 436C200 436 130 392 130 322C130 255 200 232 300 217C400 202 482 175 482 108C482 32 402 -8 302 -8C202 -8 128 35 120 110V-8"/>
<path vector-effect="non-scaling-stroke" transform="translate(401.23 412.7) scale(0.02023 -0.01900)" d="M190 680H345V-125H190"/>
</g>
</svg>
</body></html>
